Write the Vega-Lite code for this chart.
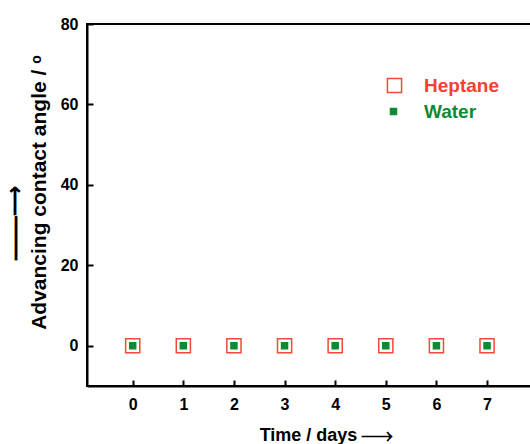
{
  "$schema": "https://vega.github.io/schema/vega-lite/v6.json",
  "autosize": "none",
  "padding": {"left": 87, "top": 24, "right": 0, "bottom": 58},
  "width": 478,
  "height": 362,
  "background": "white",
  "data": {
    "values": [
      {"day": 0, "angle": 0, "series": "Heptane"},
      {"day": 1, "angle": 0, "series": "Heptane"},
      {"day": 2, "angle": 0, "series": "Heptane"},
      {"day": 3, "angle": 0, "series": "Heptane"},
      {"day": 4, "angle": 0, "series": "Heptane"},
      {"day": 5, "angle": 0, "series": "Heptane"},
      {"day": 6, "angle": 0, "series": "Heptane"},
      {"day": 7, "angle": 0, "series": "Heptane"},
      {"day": 0, "angle": 0, "series": "Water"},
      {"day": 1, "angle": 0, "series": "Water"},
      {"day": 2, "angle": 0, "series": "Water"},
      {"day": 3, "angle": 0, "series": "Water"},
      {"day": 4, "angle": 0, "series": "Water"},
      {"day": 5, "angle": 0, "series": "Water"},
      {"day": 6, "angle": 0, "series": "Water"},
      {"day": 7, "angle": 0, "series": "Water"}
    ]
  },
  "encoding": {
    "x": {
      "field": "day", "type": "quantitative",
      "scale": {"domain": [-0.903, 8.54], "nice": false, "zero": false},
      "axis": {"values": [0, 1, 2, 3, 4, 5, 6, 7], "title": "Time / days \u23af\u27f6", "grid": false}
    },
    "y": {
      "field": "angle", "type": "quantitative",
      "scale": {"domain": [-10, 80], "nice": false, "zero": false},
      "axis": {
        "values": [0, 20, 40, 60, 80],
        "title": ["\u23af\u23af\u23af\u23af\u27f6\u2800\u2800\u2800\u2800", "Advancing contact angle / \u1d52"],
        "titleY": 168,
        "grid": false
      }
    }
  },
  "layer": [
    {
      "transform": [{"filter": "datum.series === 'Heptane'"}],
      "mark": {"type": "point", "shape": "square", "strokeWidth": 1.5, "opacity": 1, "fill": "white", "size": 200},
      "encoding": {
        "stroke": {
          "field": "series", "type": "nominal",
          "scale": {"domain": ["Heptane"], "range": ["#f4483a"]},
          "legend": {
            "title": null, "orient": "none", "legendX": 298, "legendY": 52,
            "labelColor": "#f4402e", "labelOffset": 20,
            "symbolSize": 200, "symbolStrokeColor": "#f4483a", "symbolFillColor": "white"
          }
        }
      }
    },
    {
      "transform": [{"filter": "datum.series === 'Water'"}],
      "mark": {"type": "point", "shape": "square", "strokeWidth": 1.5, "opacity": 1, "filled": true, "stroke": "#0e8a32", "size": 36},
      "encoding": {
        "fill": {
          "field": "series", "type": "nominal",
          "scale": {"domain": ["Water"], "range": ["#0e8a32"]},
          "legend": {
            "title": null, "orient": "none", "legendX": 297, "legendY": 78,
            "labelColor": "#0e8a32", "labelOffset": 21,
            "symbolSize": 36, "symbolStrokeColor": "#0e8a32", "symbolFillColor": "#0e8a32"
          }
        }
      }
    }
  ],
  "config": {
    "font": "Liberation Sans",
    "view": {"stroke": "black", "strokeWidth": 2},
    "axis": {
      "domainColor": "black", "domainWidth": 2,
      "tickColor": "black", "tickWidth": 2, "tickSize": -6,
      "labelFont": "Liberation Sans", "labelFontWeight": "bold", "labelFontSize": 16, "labelColor": "black",
      "titleFont": "Liberation Sans", "titleFontWeight": "bold", "titleColor": "black"
    },
    "axisX": {"labelPadding": 16, "titleFontSize": 18, "titlePadding": 14},
    "axisY": {"labelPadding": 15, "titleFontSize": 21, "titlePadding": 11, "titleLineHeight": 24},
    "legend": {
      "padding": 0, "labelFontSize": 19, "labelFontWeight": "bold", "labelFont": "Liberation Sans",
      "symbolStrokeWidth": 1.5, "symbolType": "square"
    }
  }
}
